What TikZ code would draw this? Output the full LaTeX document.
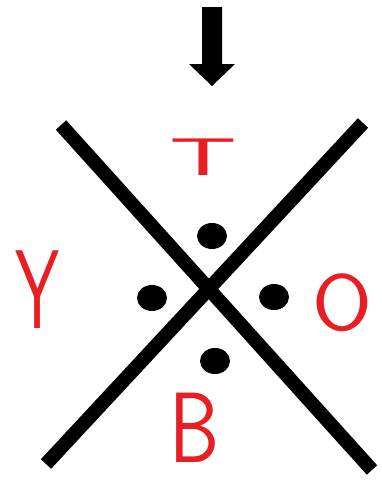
\documentclass[tikz,border=0pt]{standalone}
\usepackage{fontspec}
\usepackage{tikz}
\usetikzlibrary{shapes.geometric,calc}

\definecolor{penred}{RGB}{232,30,36}

\begin{document}
\begin{tikzpicture}[
    x=1pt, y=-1pt,
    barline/.style={black, line width=14pt, line cap=butt},
    dot/.style={ellipse, fill=black, inner sep=0pt,
                 minimum width=30pt, minimum height=26pt},
    sidelabel/.style={text=penred, anchor=base, inner sep=0pt,
                      font=\sffamily},
]

\useasboundingbox (0, 0) rectangle (382, 488);

% ── Arrow on top ────────────────────────────────────────────
\coordinate (arrowtop) at (212, 7);
\coordinate (arrowtip) at (212, 86);
\fill[black] ($(arrowtop)+(-10,0)$) -- ($(arrowtop)+(10,0)$)
    -- (222, 64) -- (235, 64) -- (arrowtip) -- (189, 64)
    -- (202, 64) -- cycle;

% ── The cross ───────────────────────────────────────────────
\coordinate (tl) at (61, 125);
\coordinate (br) at (372, 470);
\coordinate (tr) at (363, 123);
\coordinate (bl) at (46, 464);
\draw[barline] (tl) -- (br);
\draw[barline] (tr) -- (bl);

% ── Dots round the centre ───────────────────────────────────
\node[dot] (dtop)   at (212, 236) {};
\node[dot] (dleft)  at (152, 298) {};
\node[dot] (dright) at (274, 297) {};
\node[dot] (dbot)   at (215, 361) {};

% ── Letters ─────────────────────────────────────────────────
\node[sidelabel] (ltop)   at (203, 175)
    {\fontsize{53}{53}\selectfont\scalebox{2}[1]{T}};
\node[sidelabel] (lleft)  at (38, 328)
    {\fontsize{112}{112}\selectfont\scalebox{0.63}[1]{Y}};
\node[sidelabel] (lright) at (342, 330)
    {\fontsize{80}{80}\selectfont\scalebox{1.08}[1]{O}};
\node[sidelabel] (lbot)   at (195, 462)
    {\fontsize{100}{100}\selectfont\scalebox{0.8}[1]{B}};

\end{tikzpicture}
\end{document}
